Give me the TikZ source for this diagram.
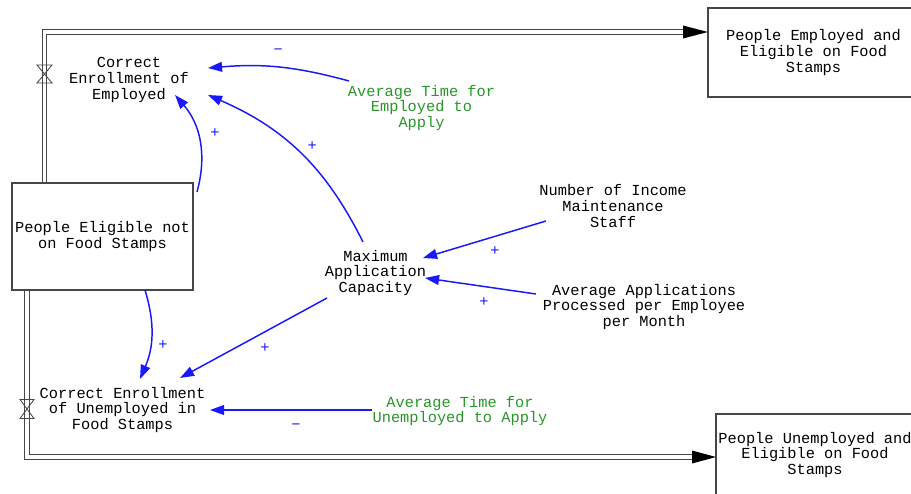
\documentclass[tikz,border=0pt]{standalone}
\usepackage{fontspec}
\setmonofont{Liberation Mono}
\usetikzlibrary{arrows.meta}
\definecolor{auxgreen}{RGB}{40,150,40}
\definecolor{linkblue}{RGB}{25,25,250}
\definecolor{pipegray}{RGB}{70,70,70}

\begin{document}
\begin{tikzpicture} [
  x=0.025cm, y=0.025cm,
  every node/.style={font=\ttfamily\fontsize{10.9}{11.3}\selectfont,align=center,inner sep=0pt},
  stock/.style={rectangle,draw=pipegray,line width=0.8pt},
  const/.style={text=auxgreen},
  link/.style={-{Triangle[length=10pt,width=7pt]},draw=linkblue,line width=1.05pt},
  sign/.style={text=linkblue},
  pipe/.style={draw=pipegray,line width=0.75pt,double=white,double distance=2.2pt},
  valve/.style={draw=pipegray,line width=0.6pt},
  ]
  \useasboundingbox (0,0) rectangle (911,-493);

  % stocks
  \node[stock, minimum width=4.525cm, minimum height=2.675cm] (elig) at (102.5,-236.5)
    {People Eligible not\\on Food Stamps};
  \node[stock, minimum width=5.275cm, minimum height=2.225cm] (emp) at (813.5,-52.5)
    {People Employed and\\Eligible on Food\\Stamps};
  \node[stock, minimum width=4.95cm, minimum height=2.05cm] (unemp) at (815,-455)
    {People Unemployed and\\Eligible on Food\\Stamps};

  % flows
  \coordinate (vE) at (44.5,-74);
  \coordinate (vU) at (27,-409);
  \coordinate (inE) at (708,-32);
  \coordinate (inU) at (716,-457);
  \draw[pipe] (vE |- elig.north) |- ([xshift=-0.6cm]inE);
  \draw[pipe] (vU |- elig.south) |- ([xshift=-0.6cm]inU);
  \fill[black] (inE) -- ++(-25,6.5) -- ++(0,-13) -- cycle;
  \fill[black] (inU) -- ++(-24,6.5) -- ++(0,-13) -- cycle;
  \draw[valve] ([shift={(-7.5,9)}]vE) -- ++(15,0) -- ++(-15,-18) -- ++(15,0) -- cycle;
  \draw[valve] ([shift={(-7,9.5)}]vU) -- ++(14,0) -- ++(-14,-19) -- ++(14,0) -- cycle;

  \node (cee) at (129,-80) {Correct\\Enrollment of\\Employed};
  \node (ceu) at (122.5,-410) {Correct Enrollment\\of Unemployed in\\Food Stamps};

  % auxiliaries
  \node[const] (atemp) at (421.5,-108) {Average Time for\\Employed to\\Apply};
  \node[const] (atunemp) at (460,-411) {Average Time for\\Unemployed to Apply};
  \node (maxcap) at (375.5,-273) {Maximum\\Application\\Capacity};
  \node (staff) at (613,-206) {Number of Income\\Maintenance\\Staff};
  \node (aapp) at (644,-307) {Average Applications\\Processed per Employee\\per Month};

  % links
  \draw[link] ([shift={(-72.5,27)}]atemp.center) to[bend right=10]
    node[sign, midway, shift={(-1,16)}] {−} ([shift={(79,12)}]cee.center);
  \draw[link] ([shift={(-12.5,31)}]maxcap.center) to[bend right=20]
    node[sign, midway, shift={(12,7)}] {+} ([shift={(79,-15)}]cee.center);
  \draw[link] ([shift={(94.5,44.5)}]elig.center) to[bend right=28]
    node[sign, midway, shift={(15.6,7.5)}] {+} ([shift={(46,-15)}]cee.center);
  \draw[link] ([shift={(42.5,-53.5)}]elig.center) to[bend left=20]
    node[sign, midway, shift={(11.6,-10.5)}] {+} ([shift={(17.5,31)}]ceu.center);
  \draw[link] ([shift={(-48.5,-25)}]maxcap.center) --
    node[sign, midway, shift={(11.5,-10)}] {+} ([shift={(57.5,32)}]ceu.center);
  \draw[link] ([shift={(-88,1)}]atunemp.center) --
    node[sign, midway, shift={(5,-17)}] {−} ([shift={(87.5,0)}]ceu.center);
  \draw[link] ([shift={(-67,-15)}]staff.center) --
    node[sign, midway, shift={(10.5,-11.5)}] {+} ([shift={(47.5,15)}]maxcap.center);
  \draw[link] ([shift={(-108,13)}]aapp.center) --
    node[sign, midway, shift={(3.5,-16)}] {+} ([shift={(49.5,-5)}]maxcap.center);
\end{tikzpicture}
\end{document}
